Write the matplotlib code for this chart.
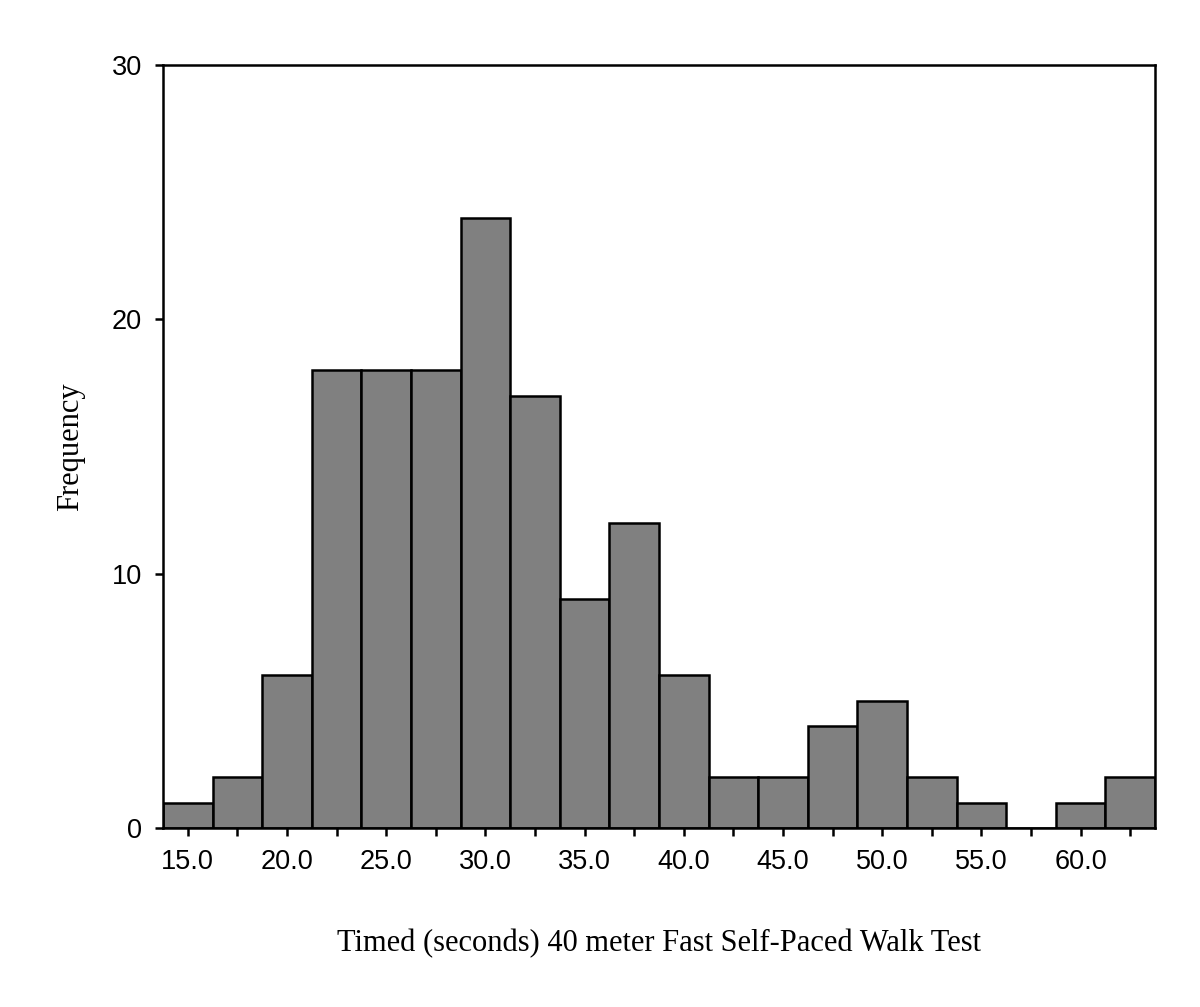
import numpy as np
import matplotlib.pyplot as plt

# Histogram data (bin width 2.5 s)
bin_centers = [15.0, 17.5, 20.0, 22.5, 25.0, 27.5, 30.0, 32.5, 35.0, 37.5,
               40.0, 42.5, 45.0, 47.5, 50.0, 52.5, 55.0, 57.5, 60.0, 62.5]
counts = [1, 2, 6, 18, 18, 18, 24, 17, 9, 12,
          6, 2, 2, 4, 5, 2, 1, 0, 1, 2]
bin_width = 2.5
xtick_labels = ['15.0', '20.0', '25.0', '30.0', '35.0', '40.0', '45.0', '50.0', '55.0', '60.0']
yticks = [0, 10, 20, 30]

fig = plt.figure(figsize=(12, 10.07), dpi=100)
ax = fig.add_axes([0.1358, 0.1778, 0.8267, 0.7577])

ax.bar(bin_centers, counts, width=bin_width, color='#808080',
       edgecolor='black', linewidth=1.8)

ax.set_xlim(bin_centers[0] - bin_width / 2, bin_centers[-1] + bin_width / 2)
ax.set_ylim(0, 30)

ax.set_xticks(bin_centers)
labels = [f'{c:.1f}' if f'{c:.1f}' in xtick_labels else '' for c in bin_centers]
ax.set_xticklabels(labels, fontsize=19.5, family='Liberation Sans')
ax.set_yticks(yticks)
ax.set_yticklabels([str(v) for v in yticks], fontsize=19.5, family='Liberation Sans')
ax.tick_params(axis='both', direction='out', length=6, width=1.8, pad=9)

for s in ax.spines.values():
    s.set_linewidth(1.8)

ax.set_xlabel('Timed (seconds) 40 meter Fast Self-Paced Walk Test',
              fontsize=22, family='Liberation Serif', labelpad=39)
ax.set_ylabel('Frequency', fontsize=22, family='Liberation Serif', labelpad=19)

fig.savefig('out.png', dpi=100)
